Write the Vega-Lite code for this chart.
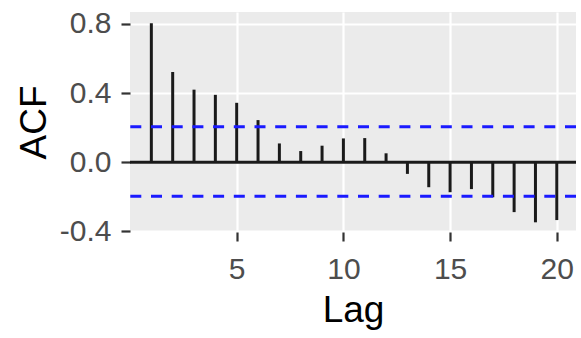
{
  "$schema": "https://vega.github.io/schema/vega-lite/v6.json",
  "width": 446,
  "height": 220,
  "autosize": "none",
  "padding": {"left": 130, "top": 12, "right": 5, "bottom": 106},
  "background": "white",
  "config": {
    "view": {"fill": "#EBEBEB", "stroke": null},
    "font": "Liberation Sans"
  },
  "datasets": {
    "acf": [
      {"lag": 1, "acf": 0.804},
      {"lag": 2, "acf": 0.522},
      {"lag": 3, "acf": 0.420},
      {"lag": 4, "acf": 0.390},
      {"lag": 5, "acf": 0.344},
      {"lag": 6, "acf": 0.244},
      {"lag": 7, "acf": 0.109},
      {"lag": 8, "acf": 0.065},
      {"lag": 9, "acf": 0.096},
      {"lag": 10, "acf": 0.138},
      {"lag": 11, "acf": 0.140},
      {"lag": 12, "acf": 0.052},
      {"lag": 13, "acf": -0.067},
      {"lag": 14, "acf": -0.144},
      {"lag": 15, "acf": -0.173},
      {"lag": 16, "acf": -0.155},
      {"lag": 17, "acf": -0.202},
      {"lag": 18, "acf": -0.288},
      {"lag": 19, "acf": -0.347},
      {"lag": 20, "acf": -0.334}
    ],
    "ci": [{"level": 0.205}, {"level": -0.197}],
    "zero": [{"level": 0}]
  },
  "layer": [
    {
      "data": {"name": "zero"},
      "mark": {"type": "rule", "color": "#1a1a1a", "strokeWidth": 3},
      "encoding": {
        "y": {
          "field": "level",
          "type": "quantitative",
          "scale": {"domain": [-0.403, 0.869], "nice": false, "zero": false},
          "axis": {
            "values": [-0.4, -0.2, 0, 0.2, 0.4, 0.6, 0.8],
            "labelExpr": "round(datum.value*10) % 4 == 0 ? replace(format(datum.value, '.1f'), '\u2212', '-') : ''",
            "tickOpacity": {"condition": {"test": "round(datum.value*10) % 4 != 0", "value": 0}, "value": 1},
            "gridWidth": {"condition": {"test": "round(datum.value*10) % 4 != 0", "value": 1.1}, "value": 2.2},
            "gridColor": "white",
            "grid": true,
            "domain": false,
            "tickSize": 9,
            "tickWidth": 2.2,
            "tickColor": "#333333",
            "labelFontSize": 30,
            "labelColor": "#4D4D4D",
            "labelPadding": 10,
            "title": "ACF",
            "titleFontSize": 37,
            "titleFontWeight": "normal",
            "titleColor": "black",
            "titleX": -85,
            "titleBaseline": "alphabetic"
          }
        }
      }
    },
    {
      "data": {"name": "acf"},
      "mark": {"type": "rule", "color": "#1a1a1a", "strokeWidth": 3},
      "encoding": {
        "x": {
          "field": "lag",
          "type": "quantitative",
          "scale": {"domain": [0, 20.9], "nice": false, "zero": false},
          "axis": {
            "values": [5, 10, 15, 20],
            "format": "d",
            "grid": true,
            "gridColor": "white",
            "gridWidth": 2.2,
            "domain": false,
            "tickSize": 9,
            "tickWidth": 2.2,
            "tickColor": "#333333",
            "labelFontSize": 30,
            "labelColor": "#4D4D4D",
            "labelBaseline": "alphabetic",
            "labelPadding": 37,
            "title": "Lag",
            "titleFontSize": 37,
            "titleFontWeight": "normal",
            "titleColor": "black",
            "titleBaseline": "alphabetic",
            "titleY": 89
          }
        },
        "y": {"field": "acf", "type": "quantitative"},
        "y2": {"datum": 0}
      }
    },
    {
      "data": {"name": "ci"},
      "mark": {"type": "rule", "color": "#1a1aff", "strokeWidth": 3, "strokeDash": [11, 9.7]},
      "encoding": {
        "y": {"field": "level", "type": "quantitative"}
      }
    }
  ]
}
